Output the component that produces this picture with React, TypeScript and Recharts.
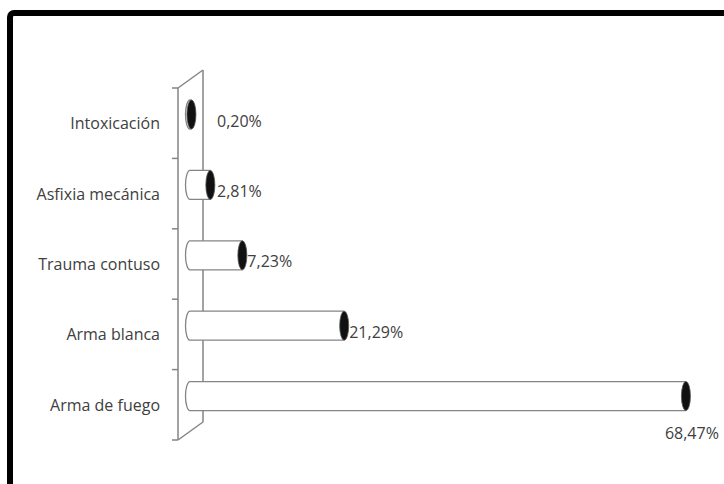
import { BarChart, Bar, XAxis, YAxis, LabelList } from 'recharts';

const CATEGORIES = ['Intoxicación', 'Asfixia mecánica', 'Trauma contuso', 'Arma blanca', 'Arma de fuego'];
const SHARES = [0.2, 2.81, 7.23, 21.29, 68.47];

const W = 724;
const H = 484;
const MARGIN = { top: 88, right: 27, bottom: 44, left: 0 };
const Y_AXIS_W = 190;
const LIFT = 9; // bars sit slightly up and back from the band centre (3D look)
const FONT = '"Open Sans", "DejaVu Sans", sans-serif';
const TEXT = '#404040';
const LINE = '#858585';

const data = CATEGORIES.map((name, i) => ({ name, value: SHARES[i] }));

const pct = (v: number) => `${v.toFixed(2).replace('.', ',')}%`;

// white cylinder with a dark elliptical cap at the value end
function Cylinder(props: any) {
  const { x, y, width, height } = props;
  const top = y - LIFT;
  const bottom = top + height;
  const cy = top + height / 2;
  const ry = height / 2;
  const rx = 4.5;
  const xEnd = x + width;
  const body = `M${xEnd},${top} L${x},${top} A${rx},${ry} 0 0 0 ${x},${bottom} L${xEnd},${bottom}`;
  return (
    <g>
      <path d={`${body} Z`} fill="#ffffff" stroke="none" />
      <path d={body} fill="none" stroke={LINE} strokeWidth={1.3} />
      <ellipse cx={xEnd} cy={cy} rx={rx} ry={ry} fill="#111" stroke="#555" strokeWidth={0.8} />
    </g>
  );
}

function ValueLabel(props: any) {
  const { x, y, width, height, value } = props;
  const xEnd = x + width;
  const mid = y + height / 2;
  const style = { fontFamily: FONT, fontSize: 16, fill: TEXT };
  if (xEnd > W - 90) {
    // not enough room on the right: put it under the cap
    return (
      <text x={xEnd + 6} y={mid + 28} textAnchor="middle" dominantBaseline="central" style={style}>
        {pct(value)}
      </text>
    );
  }
  return (
    <text x={Math.max(xEnd + 5, x + 27)} y={mid - 3} dominantBaseline="central" style={style}>
      {pct(value)}
    </text>
  );
}

function CategoryTick(props: any) {
  const { x, y, payload } = props;
  return (
    <text x={x - 22} y={y} textAnchor="end" dominantBaseline="central"
      style={{ fontFamily: FONT, fontSize: 16, fill: TEXT }}>
      {payload.value}
    </text>
  );
}

// slanted back wall behind the category axis
function Wall() {
  const plotTop = MARGIN.top;
  const plotBottom = H - MARGIN.bottom;
  const x0 = MARGIN.left + Y_AXIS_W;
  const front = x0 - 12;
  const back = x0 + 13;
  const depth = 18;
  const band = (plotBottom - plotTop) / CATEGORIES.length;
  const bounds = Array.from({ length: CATEGORIES.length + 1 }, (_, i) => plotTop + i * band);
  return (
    <svg width={W} height={H} style={{ position: 'absolute', left: 0, top: 0 }}>
      <g stroke={LINE} strokeWidth={1.5} fill="none">
        <line x1={front} y1={plotTop} x2={front} y2={plotBottom} />
        <line x1={back} y1={plotTop - depth} x2={back} y2={plotBottom - depth} />
        <line x1={front} y1={plotTop} x2={back} y2={plotTop - depth} />
        <line x1={front} y1={plotBottom} x2={back} y2={plotBottom - depth} />
        {bounds.map((b) => (
          <line key={b} x1={front - 6} y1={b} x2={front} y2={b} />
        ))}
      </g>
    </svg>
  );
}

export default function App() {
  return (
    <div style={{ position: 'absolute', left: 0, top: 0, width: W, height: H, overflow: 'hidden', background: '#fff' }}>
      <div
        style={{
          position: 'absolute',
          left: 7,
          top: 10,
          width: 900,
          height: 700,
          borderTop: '6px solid #000',
          borderLeft: '6px solid #000',
          borderTopLeftRadius: 7,
        }}
      />
      <Wall />
      <div style={{ position: 'absolute', left: 0, top: 0 }}>
        <BarChart width={W} height={H} data={data} layout="vertical" margin={MARGIN} barSize={29}>
          <XAxis type="number" domain={[0, 70]} hide />
          <YAxis type="category" dataKey="name" width={Y_AXIS_W} axisLine={false} tickLine={false} tick={CategoryTick} />
          <Bar dataKey="value" shape={Cylinder} isAnimationActive={false}>
            <LabelList dataKey="value" content={ValueLabel} />
          </Bar>
        </BarChart>
      </div>
    </div>
  );
}
